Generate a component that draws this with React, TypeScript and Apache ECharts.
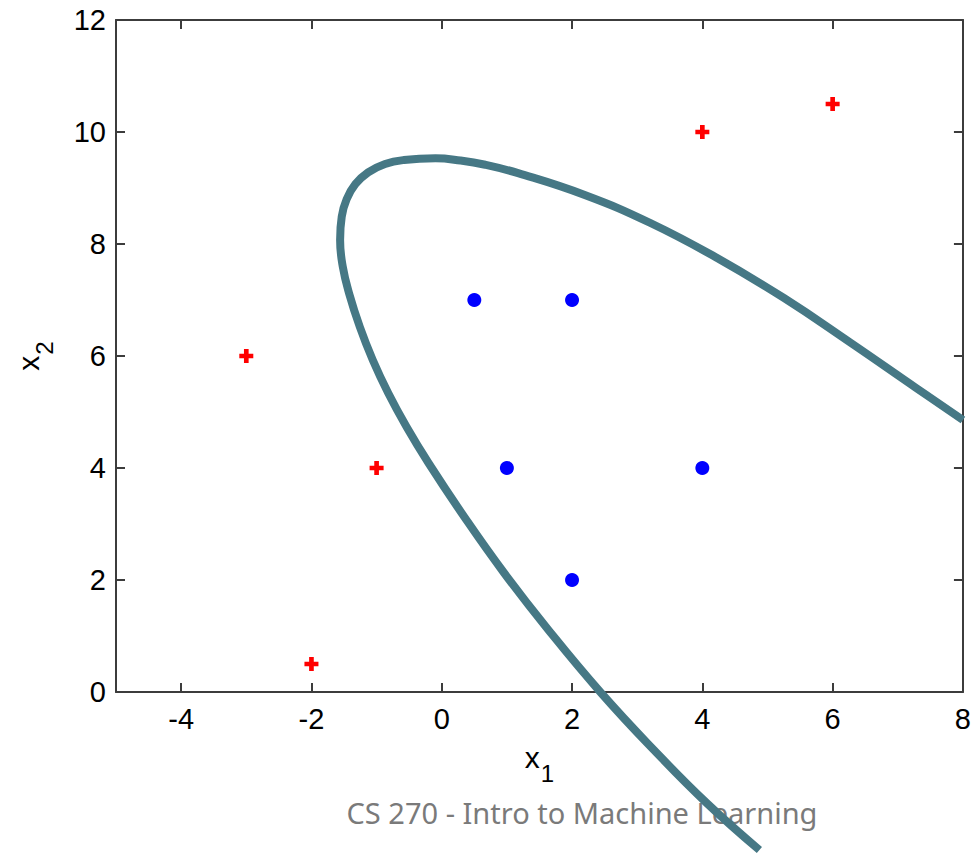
import React, { useEffect, useRef } from "react";
import * as echarts from "echarts";

const xTicks = [-4, -2, 0, 2, 4, 6, 8];
const yTicks = [0, 2, 4, 6, 8, 10, 12];

const plusX = [-3, -1, -2, 4, 6];
const plusY = [6, 4, 0.5, 10, 10.5];

const dotX = [0.5, 2, 1, 4, 2];
const dotY = [7, 7, 4, 4, 2];

const boundaryX = [4.876, 4.066, 3.257, 2.447, 1.638, 0.958, 0.347, -0.203, -0.539, -0.822, -1.059, -1.257, -1.42, -1.52, -1.56, -1.535, -1.46, -1.325, -1.13, -0.87, -0.58, -0.096, 0.286, 0.668, 1.172, 2.195, 3.203, 4.227, 5.251, 6.259, 7.282, 8.0];
const boundaryY = [-2.821, -1.982, -1.036, -0.018, 1.107, 2.125, 3.125, 4.089, 4.732, 5.339, 5.929, 6.518, 7.11, 7.6, 8.07, 8.49, 8.8, 9.07, 9.28, 9.43, 9.5, 9.53, 9.49, 9.415, 9.265, 8.875, 8.375, 7.75, 7.036, 6.25, 5.429, 4.857];

const footerText = "CS 270 - Intro to Machine Learning";

const axisColor = "#3c3c3c";
const labelFont = "'Liberation Sans', Arial, sans-serif";

export default function App() {
  const ref = useRef<HTMLDivElement>(null);
  useEffect(() => {
    if (!ref.current) return;
    const chart = echarts.init(ref.current, null, { renderer: "svg" });
    const plusPath = "path://M5,0H10V5H15V10H10V15H5V10H0V5H5Z";
    const nameRich = {
      a: { fontSize: 30, fontFamily: labelFont, color: "#000" },
      b: { fontSize: 24, fontFamily: labelFont, color: "#000", padding: [32, 0, 0, 1] },
    };
    const baseX = {
      type: "value",
      min: -5,
      max: 8,
      splitLine: { show: false },
      axisLine: { show: true, onZero: false, lineStyle: { color: axisColor, width: 2 } },
    };
    const baseY = {
      type: "value",
      min: 0,
      max: 12,
      splitLine: { show: false },
      axisLine: { show: true, onZero: false, lineStyle: { color: axisColor, width: 2 } },
    };
    chart.setOption({
      animation: false,
      backgroundColor: "#ffffff",
      grid: { left: 116, right: 7, top: 20, bottom: 162, containLabel: false },
      xAxis: [
        {
          ...baseX,
          position: "bottom",
          name: "{a|x}{b|1}",
          nameLocation: "middle",
          nameGap: 37,
          nameTextStyle: { rich: nameRich },
          axisTick: { show: true, inside: true, length: 9, customValues: xTicks, lineStyle: { color: axisColor, width: 2 } },
          axisLabel: { show: true, customValues: xTicks, margin: 12, fontSize: 29, color: "#000", fontFamily: labelFont },
        },
        {
          ...baseX,
          position: "top",
          axisTick: { show: true, inside: true, length: 9, customValues: xTicks, lineStyle: { color: axisColor, width: 2 } },
          axisLabel: { show: false },
        },
      ],
      yAxis: [
        {
          ...baseY,
          position: "left",
          interval: 2,
          name: "{a|x}{b|2}",
          nameLocation: "middle",
          nameGap: 60,
          nameTextStyle: { rich: nameRich },
          axisTick: { show: true, inside: true, length: 9, lineStyle: { color: axisColor, width: 2 } },
          axisLabel: { show: true, margin: 10, fontSize: 29, color: "#000", fontFamily: labelFont, formatter: (v: number) => (yTicks.includes(v) ? String(v) : "") },
        },
        {
          ...baseY,
          position: "right",
          interval: 2,
          axisTick: { show: true, inside: true, length: 9, lineStyle: { color: axisColor, width: 2 } },
          axisLabel: { show: false },
        },
      ],
      graphic: [
        {
          type: "text",
          x: 582,
          y: 812,
          z: 0,
          style: {
            text: footerText,
            align: "center",
            verticalAlign: "middle",
            fontSize: 29,
            fontFamily: "'Noto Sans', 'Open Sans', sans-serif",
            fill: "#7a7a7a",
          },
        },
      ],
      series: [
        {
          type: "scatter",
          data: plusX.map((x, i) => [x, plusY[i]]),
          symbol: plusPath,
          symbolSize: 14,
          itemStyle: { color: "#ff0000", opacity: 1 },
          z: 3,
        },
        {
          type: "scatter",
          data: dotX.map((x, i) => [x, dotY[i]]),
          symbol: "circle",
          symbolSize: 14,
          itemStyle: { color: "#0000ff", opacity: 1 },
          z: 3,
        },
        {
          type: "line",
          data: boundaryX.map((x, i) => [x, boundaryY[i]]),
          smooth: 0.45,
          showSymbol: false,
          clip: false,
          lineStyle: { color: "#467885", width: 8 },
          z: 4,
        },
      ],
    });
    return () => chart.dispose();
  }, []);
  return (
    <div
      ref={ref}
      style={{ position: "absolute", left: 0, top: 0, width: 974, height: 854, background: "#fff" }}
    />
  );
}
